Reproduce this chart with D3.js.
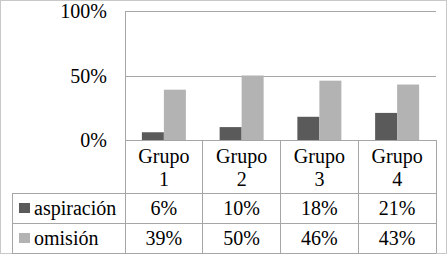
<!DOCTYPE html>
<html><head><script src="https://cdn.jsdelivr.net/npm/d3@7"></script></head>
<body style="margin:0">
<script>
  // data
  const groups = ["Grupo 1", "Grupo 2", "Grupo 3", "Grupo 4"];
  const seriesNames = ["aspiraci\u00f3n", "omisi\u00f3n"];
  const aspiracion = [6, 10, 18, 21];
  const omision = [39, 50, 46, 43];
  const yTicks = [0, 50, 100];

  const colors = ["#5a5a5a", "#b3b3b3"];
  const lineCol = "#a6a6a6";
  const width = 447, height = 254;
  const FONT = "'Liberation Serif', 'Times New Roman', Tinos, serif";

  const svg = d3.select("body").append("svg")
    .attr("width", width)
    .attr("height", height)
    .attr("font-family", FONT)
    .attr("font-size", 20);

  // helper: every label gets the serif font directly
  function label(sel) {
    return sel.append("text")
      .attr("font-family", FONT)
      .style("font-family", FONT)
      .style("font-size", "20px")
      .attr("fill", "#000");
  }

  // outer frame
  svg.append("rect")
    .attr("x", 0.5).attr("y", 0.5)
    .attr("width", width - 1).attr("height", height - 1)
    .attr("fill", "none").attr("stroke", "#c8c8c8");

  const plotL = 125, plotR = 436, plotT = 11, plotB = 140;
  const tableLeft = 12;
  const rowBottoms = [193, 223, 253];

  const x = d3.scaleBand().domain(groups).range([plotL, plotR]);
  const y = d3.scaleLinear().domain([0, 100]).range([plotB, plotT]);
  const xs = d3.scaleBand().domain(seriesNames)
    .range([x.bandwidth() / 2 - 22, x.bandwidth() / 2 + 22]);

  // gridlines
  svg.append("g").selectAll("line")
    .data(yTicks.filter(d => d > 0))
    .join("line")
    .attr("x1", plotL).attr("x2", plotR)
    .attr("y1", d => Math.round(y(d)) + 0.5).attr("y2", d => Math.round(y(d)) + 0.5)
    .attr("stroke", lineCol);

  // y tick labels
  yTicks.forEach(t => {
    label(svg)
      .attr("x", 107)
      .attr("y", y(t))
      .attr("dy", "0.35em")
      .attr("text-anchor", "end")
      .text(t + "%");
  });

  // bars
  const rows = groups.map((g, i) => ({ g, vals: [aspiracion[i], omision[i]] }));
  const gg = svg.append("g").selectAll("g")
    .data(rows)
    .join("g")
    .attr("transform", d => `translate(${x(d.g)},0)`);
  gg.selectAll("rect")
    .data(d => d.vals.map((v, k) => ({ v, s: seriesNames[k], k })))
    .join("rect")
    .attr("x", d => xs(d.s))
    .attr("width", xs.bandwidth())
    .attr("y", d => y(d.v))
    .attr("height", d => y(0) - y(d.v))
    .attr("fill", d => colors[d.k]);

  // axis line on the left
  svg.append("line")
    .attr("x1", plotL + 0.5).attr("x2", plotL + 0.5)
    .attr("y1", plotT).attr("y2", rowBottoms[2])
    .attr("stroke", lineCol);

  // data table
  const tbl = svg.append("g").attr("stroke", lineCol).attr("shape-rendering", "crispEdges");
  tbl.append("line").attr("x1", plotL).attr("x2", plotR).attr("y1", plotB).attr("y2", plotB);
  rowBottoms.forEach(yy => {
    tbl.append("line").attr("x1", tableLeft).attr("x2", plotR).attr("y1", yy).attr("y2", yy);
  });
  tbl.append("line").attr("x1", tableLeft).attr("x2", tableLeft).attr("y1", rowBottoms[0]).attr("y2", rowBottoms[2]);
  groups.forEach(g => {
    tbl.append("line").attr("x1", x(g) + x.bandwidth()).attr("x2", x(g) + x.bandwidth())
      .attr("y1", plotB).attr("y2", rowBottoms[2]);
  });

  // category labels (two lines)
  groups.forEach(g => {
    const cx = x(g) + x.bandwidth() / 2;
    const parts = g.split(" ");
    label(svg).attr("x", cx).attr("y", 156).attr("dy", "0.35em")
      .attr("text-anchor", "middle").text(parts[0]);
    label(svg).attr("x", cx).attr("y", 179).attr("dy", "0.35em")
      .attr("text-anchor", "middle").text(parts[1]);
  });

  // series rows
  const seriesData = [aspiracion, omision];
  const rowCenters = [208, 238];
  seriesNames.forEach((name, k) => {
    svg.append("rect")
      .attr("x", 19).attr("y", rowCenters[k] - 5)
      .attr("width", 11).attr("height", 10)
      .attr("fill", colors[k]);
    label(svg)
      .attr("x", 34).attr("y", rowCenters[k]).attr("dy", "0.35em")
      .text(name);
    seriesData[k].forEach((v, i) => {
      label(svg)
        .attr("x", x(groups[i]) + x.bandwidth() / 2)
        .attr("y", rowCenters[k]).attr("dy", "0.35em")
        .attr("text-anchor", "middle")
        .text(v + "%");
    });
  });
</script>
</body></html>
